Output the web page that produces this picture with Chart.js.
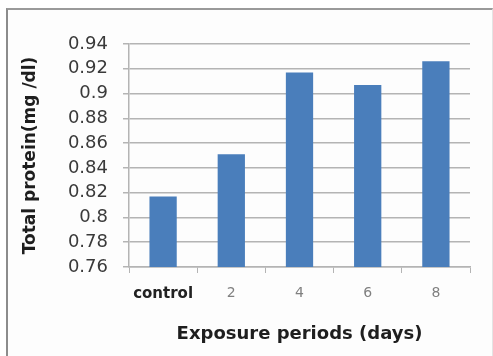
<!DOCTYPE html>
<html>
<head>
<meta charset="utf-8">
<script src="https://cdn.jsdelivr.net/npm/chart.js@4/dist/chart.umd.min.js"></script>
<style>
  html, body { margin: 0; padding: 0; background: #ffffff; }
  #wrap { position: relative; width: 493px; height: 356px; overflow: hidden; }
  #frame { position: absolute; left: 6px; top: 8px; width: 484px; height: 360px;
           border-left: 2px solid #8c8c8c; border-top: 2px solid #9a9a9a;
           border-right: 1px solid #e4e4e4; background: #fdfdfd; }
  canvas { position: absolute; left: 0; top: 0; }
</style>
</head>
<body>
<div id="wrap">
  <div id="frame"></div>
  <canvas id="c" width="493" height="356"></canvas>
</div>
<script>
const categories = ["control", "2", "4", "6", "8"];
const totalProtein = [0.817, 0.851, 0.917, 0.907, 0.926];
const yTicks = [0.76, 0.78, 0.8, 0.82, 0.84, 0.86, 0.88, 0.9, 0.92, 0.94];
const yTitle = "Total protein(mg /dl)";
const xTitle = "Exposure periods (days)";

const ctx = document.getElementById('c').getContext('2d');
new Chart(ctx, {
  type: 'bar',
  data: {
    labels: categories,
    datasets: [{
      data: totalProtein,
      backgroundColor: '#4a7ebb',
      borderWidth: 0,
      categoryPercentage: 0.8,
      barPercentage: 0.5
    }]
  },
  options: {
    responsive: false,
    animation: false,
    layout: { padding: { top: 44, right: 23, left: 0, bottom: 0 } },
    plugins: { legend: { display: false }, tooltip: { enabled: false } },
    scales: {
      x: {
        grid: { drawOnChartArea: false, tickLength: 6, color: '#b4b4b4', offset: true },
        border: { color: '#b4b4b4', width: 1.5 },
        ticks: {
          padding: 12,
          font: (c) => c.index === 0 ? { family: 'DejaVu Sans', size: 15, weight: 'bold' } : { family: 'DejaVu Sans', size: 14 },
          color: (c) => c.index === 0 ? '#222222' : '#808080'
        },
        title: { display: true, text: xTitle, color: '#1e1e1e',
                 font: { family: 'DejaVu Sans', size: 18, weight: 'bold' }, padding: { top: 0, bottom: 11 } },
        afterFit: (s) => { s.height = 356 - 267; }
      },
      y: {
        min: 0.76, max: 0.94,
        afterBuildTicks: (s) => { s.ticks = yTicks.map(v => ({ value: v })); },
        grid: { color: '#b4b4b4', lineWidth: 1.5, tickLength: 6 },
        border: { color: '#b4b4b4', width: 1.5 },
        ticks: {
          padding: 15,
          font: { family: 'DejaVu Sans', size: 18 },
          color: '#3a3a3a',
          callback: (v) => String(Math.round(v * 100) / 100)
        },
        title: { display: true, text: yTitle, color: '#1e1e1e',
                 font: { family: 'DejaVu Sans', size: 17, weight: 'bold' }, padding: { top: 20, bottom: 0 } },
        afterFit: (s) => { s.width = 129; }
      }
    }
  }
});
</script>
</body>
</html>
